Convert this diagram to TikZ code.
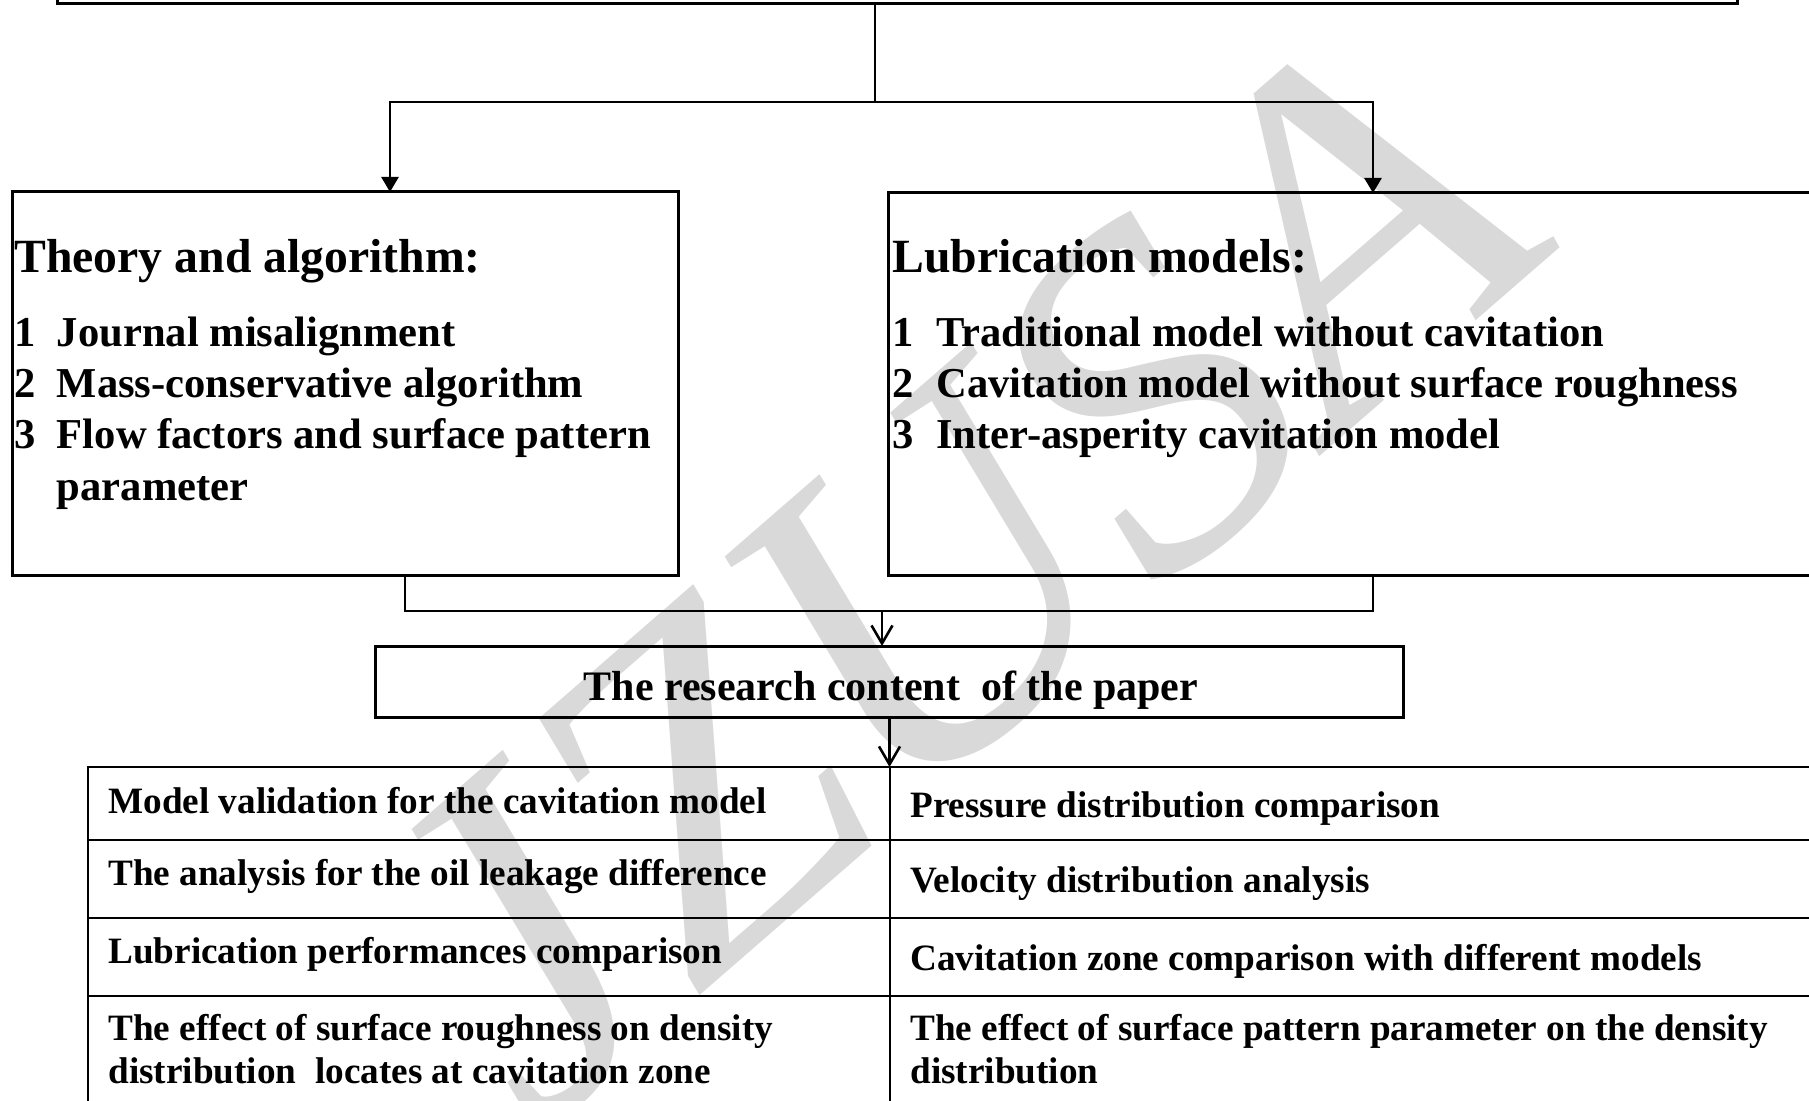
\documentclass[tikz,border=0pt]{standalone}
\usepackage{fontspec}
\setmainfont{Liberation Serif}
\usetikzlibrary{arrows.meta}
\begin{document}
\begin{tikzpicture}[x=0.5pt,y=-0.5pt,
  box/.style={draw, line width=1.5pt, rectangle, inner sep=0pt, outer sep=0pt},
  conn/.style={line width=1.3pt},
  fillarrow/.style={conn, -{Triangle[length=7.5pt,width=8.5pt]}},
  openarrow/.style={conn, -{Straight Barb[length=9pt,width=10.5pt,line width=1.3pt]}},
  tabline/.style={line width=1pt},
  head/.style={anchor=base west, inner sep=0pt, font=\fontsize{23.85}{28}\selectfont\bfseries},
  item/.style={anchor=base west, inner sep=0pt, font=\fontsize{21.3}{25.5}\selectfont\bfseries},
  midtext/.style={anchor=base, inner sep=0pt, font=\fontsize{21}{25}\selectfont\bfseries},
  cell/.style={anchor=base west, inner sep=0pt, font=\fontsize{18.6}{21.5}\selectfont\bfseries},
  watermark/.style={inner sep=0pt, text=black!15, font=\fontsize{240}{240}\selectfont\itshape}
]
\useasboundingbox (0,0) rectangle (1809,1101);

% watermark
\node[watermark, rotate=41] (wm) at (945,575) {JZUSA};

% boxes
\node[box, anchor=south west, minimum width=840pt, minimum height=60pt] (top) at (57,4) {};
\node[box, anchor=north west, minimum width=333pt, minimum height=191.5pt] (lbox) at (12,192) {};
\node[box, anchor=north west, minimum width=481pt, minimum height=191pt] (rbox) at (888,193) {};
\node[box, anchor=north west, minimum width=514pt, minimum height=35.5pt] (mid) at (375,646) {};

% upper connectors
\coordinate (j1) at (875,102);
\coordinate (jl) at (390,102);
\coordinate (jr) at (1373,102);
\draw[conn] (j1 |- top.south) -- (j1);
\draw[fillarrow] (jr) -- (jl) -- (jl |- lbox.north);
\draw[fillarrow] (jl) -- (jr) -- (jr |- rbox.north);

% lower connectors
\coordinate (bl) at (405,611);
\coordinate (br) at (1373,611);
\coordinate (bm) at (882,611);
\draw[conn] (bl |- lbox.south) -- (bl) -- (br) -- (br |- rbox.south);
\draw[openarrow] (bm) -- (bm |- mid.north);
\coordinate (tt) at (889.5,767);
\draw[openarrow] (mid.south -| tt) -- (tt);

% table
\draw[tabline] (1850,767) -- (88,767) -- (88,1150);
\draw[tabline] (88,840) -- (1850,840);
\draw[tabline] (88,918) -- (1850,918);
\draw[tabline] (88,996) -- (1850,996);
\draw[tabline] (tt) -- (889.5,1150);

% left box text
\node[head] (lh) at (14,273) {Theory and algorithm:};
\node[item] (l1n) at (14,347) {1};
\node[item] (l1) at (56.5,347) {Journal misalignment};
\node[item] (l2n) at (14,398) {2};
\node[item] (l2) at (56.5,398) {Mass-conservative algorithm};
\node[item] (l3n) at (14,449) {3};
\node[item] (l3) at (56.5,449) {Flow factors and surface pattern};
\node[item] (l3b) at (56.5,500) {parameter};

% right box text
\node[head] (rh) at (892,273) {Lubrication models:};
\node[item] (r1n) at (892,347) {1};
\node[item] (r1) at (936,347) {Traditional model without cavitation};
\node[item] (r2n) at (892,398) {2};
\node[item] (r2) at (936,398) {Cavitation model without surface roughness};
\node[item] (r3n) at (892,449) {3};
\node[item] (r3) at (936,449) {Inter-asperity cavitation model};

% middle text
\node[midtext] (mt) at (891,700) {The research content\ \ of the paper};

% table cells
\node[cell] (c11) at (108,813) {Model validation for the cavitation model};
\node[cell] (c12) at (910,817) {Pressure distribution comparison};
\node[cell] (c21) at (108,885) {The analysis for the oil leakage difference};
\node[cell] (c22) at (910,892) {Velocity distribution analysis};
\node[cell] (c31) at (108,963) {Lubrication performances comparison};
\node[cell] (c32) at (910,970) {Cavitation zone comparison with different models};
\node[cell] (c41) at (108,1040) {The effect of surface roughness on density};
\node[cell] (c41b) at (108,1083) {distribution\ \ locates at cavitation zone};
\node[cell] (c42) at (910,1040) {The effect of surface pattern parameter on the density};
\node[cell] (c42b) at (910,1083) {distribution};
\end{tikzpicture}
\end{document}
